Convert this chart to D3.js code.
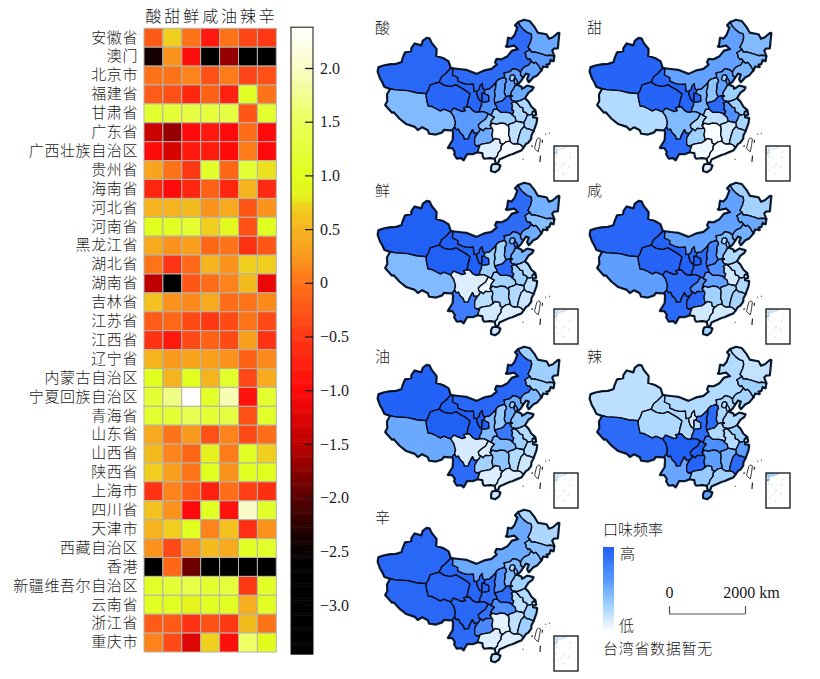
<!DOCTYPE html>
<html><head><meta charset="utf-8">
<script src="https://cdn.jsdelivr.net/npm/d3@7/dist/d3.min.js"></script>
<style>
html,body{margin:0;padding:0;background:#fff;overflow:hidden}
text{font-family:"Liberation Serif","Noto Sans CJK SC",serif;fill:#1a1a1a}
.cjk text,text.cjk{font-weight:300}
</style></head><body><svg id="c" width="820" height="679"></svg>
<script>
const provinces=["安徽省","澳门","北京市","福建省","甘肃省","广东省","广西壮族自治区","贵州省","海南省","河北省","河南省","黑龙江省","湖北省","湖南省","吉林省","江苏省","江西省","辽宁省","内蒙古自治区","宁夏回族自治区","青海省","山东省","山西省","陕西省","上海市","四川省","天津市","西藏自治区","香港","新疆维吾尔自治区","云南省","浙江省","重庆市"];
const tastes=["酸","甜","鲜","咸","油","辣","辛"];
const sour=[-0.2,-2.4,0,-0.2,1.15,-1.4,-1.0,0.35,-0.7,0.5,1.0,0.4,0,-1.5,0.6,-0.2,-0.55,0.5,1.0,1.2,1.15,0.4,0.55,0.7,-0.55,0.6,0.5,0.2,-3.4,1.1,1.05,-0.2,0.1];
const sweet=[0.7,0.2,0,-0.3,1.2,-1.7,-1.3,0,-1.0,0.5,1.05,0.2,-0.55,-3.2,0.2,-0.1,-0.85,0.25,0.5,1.7,1.2,0,0.1,0.3,0.1,0.2,0.7,-0.35,-0.1,1.2,1.05,-0.2,-0.35];
const umami=[0,-0.95,0.1,-0.7,1.3,-1.0,-0.85,-0.5,-0.7,0.55,1.15,0.3,-0.1,-0.25,0.15,-0.35,-0.35,0.35,1.0,2.38,1.45,0.25,-0.1,0,-0.2,-1.0,1.0,0.2,-1.9,1.35,0.85,-0.55,-1.25];
const salty=[-0.85,-3.4,-0.3,-0.15,1.25,-0.85,-0.8,1.1,-0.15,0.2,0.7,-0.1,0.5,-0.05,0.4,-0.5,-0.15,0.3,0.5,1.1,1.2,-0.3,0.8,1.0,-0.75,1.05,0.1,0.55,-3.4,1.15,1.05,-0.3,0.7];
const oily=[0,-1.7,0.05,-0.75,1.3,-1.0,-1.0,-0.1,-0.7,0.4,0.9,0,0.2,0.1,-0.05,-0.35,-0.35,0.2,1.1,1.9,1.3,0.1,0.05,0.2,-0.05,-0.9,0.6,0.4,-3.4,1.25,1.05,-0.5,-0.95];
const spicy=[-0.4,-3.4,-0.4,1.05,-0.25,-0.05,0.05,1.2,0.5,-0.25,-0.3,-0.6,0.7,0.55,0,0,0.3,-0.15,-0.35,-0.9,-0.3,-0.35,1.05,1.05,-0.45,2.0,-0.6,1.05,-3.4,-0.5,0.45,0.55,1.55];
const pungent=[-0.5,-3.4,-0.3,0,1.15,-1.0,-1.0,0.75,-0.65,0.2,1.0,-0.25,0.7,-1.15,0.15,-0.35,-0.55,0.15,0.4,1.15,1.1,-0.05,0.7,1.0,-0.6,1.1,0.2,1.1,-3.4,1.1,1.05,0,0.95];
const tasteValues=[sour,sweet,umami,salty,oily,spicy,pungent];
const colorbarTicks=[2,1.5,1,0.5,0,-0.5,-1,-1.5,-2,-2.5,-3];
const colorbarRange=[-3.456,2.38];
const heatStops=[-3.456,-2.65,-2.4,-2,-1.5,-1,-0.5,0,0.25,0.5,0.72,0.78,1,1.5,2,2.38];
const heatColors=["#000000","#000000","#140000","#5a0000","#be0000","#ff0a0a","#ff3814","#ff7318","#fa9a1c","#f5b41e","#f0d21e","#e6f01e","#e1ff1e","#ebff5a","#fafcc8","#ffffff"];
const blueStops=[-1.5,-1,-0.5,0,0.3,0.6,1,1.3];
const blueColors=["#fbfdff","#dceeff","#bcdfff","#9dcfff","#73b0ff","#5a9aff","#2e6cf8","#2060f5"];
const legendStops=[0,0.3,0.6,1];
const legendColors=["#ffffff","#a5d4ff","#5a9aff","#2060f5"];
// approximate province outlines, [longitude, latitude]
const outlines={
"新疆维吾尔自治区":[[73.5,39.5],[75,40.3],[76.8,41],[78.5,41.4],[80.2,42.2],[80.2,43],[80.5,44.6],[82.5,45.3],[82.3,46],[83,47.2],[85.5,47.1],[85.7,48.3],[86.8,49.1],[87.8,49.1],[88.8,48.1],[90.8,46.9],[91,45.2],[93.5,44.9],[95.4,44.3],[96.4,42.7],[94.8,41.3],[93.8,40.6],[93.2,39.2],[90.5,38.3],[90.2,37],[89.7,36.1],[87,35.9],[84,36],[80.3,35.5],[78.9,35.5],[77,35.6],[76,36.5],[75,37.2],[73.7,38.5]],
"西藏自治区":[[78.9,35.5],[80.3,35.5],[84,36],[87,35.9],[89.7,36.1],[90,35],[90.8,33.3],[92,33.3],[93,33],[94.5,32.5],[95.5,33],[97.5,32.5],[98.5,31.5],[99.1,30],[98.9,29],[98.4,28.3],[97.4,28.2],[96,28.2],[95.5,27.5],[94,26.9],[92.2,26.9],[91.7,27.7],[90,28.2],[89,27.4],[88,28],[85.5,28.3],[83.5,29.2],[81.5,30.4],[81,30.2],[78.7,31.5],[79,32.5],[78.4,34]],
"青海省":[[89.7,36.1],[90.2,37],[90.5,38.3],[93.2,39.2],[95,38.6],[97,38.5],[98.5,39],[100,38.4],[101.5,37.8],[103,37],[102.8,36.2],[102.5,35.4],[102.2,33.9],[101.2,33.6],[101.8,33],[100.8,32.7],[98.3,33.4],[97.5,32.5],[95.5,33],[94.5,32.5],[93,33],[92,33.3],[90.8,33.3],[90,35]],
"甘肃省":[[97.2,42.7],[97.2,41.2],[99,40.7],[99,39.9],[100.8,39.4],[102.3,39.2],[104,39.3],[104.2,38],[104.3,37.5],[105,37.6],[105.2,36.7],[105.5,36],[106,35.4],[106.5,35.4],[106.6,35.8],[106.6,37.1],[107.3,37.1],[108.7,36.5],[108.7,35.2],[107.8,35],[106.5,35],[106.5,34.3],[106,33.5],[105.8,32.7],[104.8,32.6],[103.9,33],[103,33.8],[102.2,33.9],[102.5,35.4],[102.8,36.2],[103,37],[101.5,37.8],[100,38.4],[98.5,39],[97,38.5],[95,38.6],[93.2,39.2],[93.8,40.6],[94.8,41.3],[96.4,42.7]],
"宁夏回族自治区":[[106.8,39.4],[107,38.2],[107.6,37.8],[107.3,37.1],[106.6,37.1],[106.6,35.8],[106.5,35.4],[106,35.4],[105.5,36],[105.2,36.7],[105,37.6],[105.8,38],[106,38.8]],
"内蒙古自治区":[[121.3,53.3],[120,52.7],[120.7,52],[119.2,50.3],[117.8,49.5],[116.7,49.8],[116,48],[115.6,47.9],[116,47.8],[118.5,47.9],[119.8,46.8],[117.5,46.6],[115.7,45.4],[113.6,44.8],[111.9,45],[111.4,44.3],[111.9,43.7],[110,42.7],[107.5,42.4],[105,41.6],[101.8,42.5],[100,42.6],[97.2,42.7],[97.2,41.2],[99,40.7],[99,39.9],[100.8,39.4],[102.3,39.2],[104,39.3],[104.2,38],[104.3,37.5],[105,37.6],[105.8,38],[106,38.8],[106.8,39.4],[107,38.2],[107.6,37.8],[108,38],[108.9,38],[110.5,39],[111.1,39.5],[111.4,39.8],[112,40.2],[113.8,40.5],[114.1,40.9],[114,41.6],[115.3,41.7],[116,41.8],[117,42.4],[118.5,42],[119.3,41.3],[120,42],[121,42.5],[122.3,42.7],[123.5,43.5],[123,44.2],[122.5,44],[122,44.6],[122,45.3],[121.7,45.7],[122.7,46],[123.8,46.3],[123.2,46.9],[124.5,48.1],[125.2,49.1],[125.2,50],[124,50.4],[122.8,51.3],[121.8,52.3]],
"黑龙江省":[[121.3,53.3],[123.6,53.6],[125.6,53],[126.9,51.3],[127.6,49.8],[130.6,48.9],[131,47.7],[132.6,47.8],[134.7,48.4],[135.1,48.4],[133.1,45.1],[131.9,45.3],[131,44.9],[131.2,43.5],[130,43.9],[128.8,44],[127.5,44.6],[126.2,45.1],[125,45.5],[124,45.6],[123.8,46.3],[123.2,46.9],[124.5,48.1],[125.2,49.1],[125.2,50],[124,50.4],[122.8,51.3],[121.8,52.3]],
"吉林省":[[131.2,43.5],[130.6,42.4],[129.8,42.9],[129,42],[128,42],[128.2,41.4],[126.9,41.8],[126,40.9],[125.5,42.1],[124.8,43],[124,42.9],[123.5,43.5],[123,44.2],[122.5,44],[122,44.6],[122,45.3],[121.7,45.7],[122.7,46],[123.8,46.3],[124,45.6],[125,45.5],[126.2,45.1],[127.5,44.6],[128.8,44],[130,43.9]],
"辽宁省":[[126,40.9],[124.4,40],[123,39.7],[121.5,38.8],[121.2,39.5],[122,40.5],[121,40.9],[119.8,40],[119.2,40.6],[119.3,41.3],[120,42],[121,42.5],[122.3,42.7],[123.5,43.5],[124,42.9],[124.8,43],[125.5,42.1]],
"河北省":[[119.8,40],[119,39.3],[117.8,38.6],[117.6,38.5],[117,38.3],[116.5,37.7],[115.7,37],[115.4,36.2],[114.6,36.1],[114,36],[113.7,36.4],[113.5,37.1],[113.8,38.1],[113.9,39],[114.5,39.6],[114.3,40.3],[113.8,40.5],[114.1,40.9],[114,41.6],[115.3,41.7],[116,41.8],[117,42.4],[118.5,42],[119.3,41.3],[119.2,40.6]],
"北京市":[[116,40.9],[116.8,41],[117.4,40.6],[117.2,40],[116.7,39.6],[116,39.6],[115.5,40]],
"天津市":[[117.2,40.2],[117.7,39.8],[118,39.2],[117.6,38.6],[117,38.8],[116.9,39.5]],
"山东省":[[117.6,38.5],[118.9,37.9],[119,37.3],[120,37.6],[120.8,37.9],[122.5,37.3],[122,36.8],[120.7,36.3],[119.4,35.1],[118.5,34.8],[117.2,34.6],[116.3,34.7],[115.5,35],[115.1,35.8],[115.9,36],[115.4,36.2],[115.7,37],[116.5,37.7],[117,38.3]],
"山西省":[[110.4,34.6],[111.5,34.9],[112.8,35.1],[114,36],[113.7,36.4],[113.5,37.1],[113.8,38.1],[113.9,39],[114.5,39.6],[114.3,40.3],[113.8,40.5],[112,40.2],[111.4,39.8],[111.1,39.5],[110.9,38.2],[110.5,37.5],[110.6,36.5],[110.3,35.6]],
"陕西省":[[107.6,37.8],[108,38],[108.9,38],[110.5,39],[111.1,39.5],[110.9,38.2],[110.5,37.5],[110.6,36.5],[110.3,35.6],[110.4,34.6],[110.9,33.9],[111,33.2],[110,33.2],[109.6,32.5],[109.2,31.8],[108.4,32.2],[107.2,32.7],[106,32.8],[105.8,32.7],[106,33.5],[106.5,34.3],[106.5,35],[107.8,35],[108.7,35.2],[108.7,36.5],[107.3,37.1]],
"河南省":[[110.4,34.6],[111.5,34.9],[112.8,35.1],[114,36],[114.6,36.1],[115.4,36.2],[115.9,36],[115.1,35.8],[115.5,35],[116.3,34.7],[115.3,34.3],[115.6,33.8],[115.3,32.9],[115.8,32.5],[115.3,31.5],[114.8,32],[113.8,32.3],[112,32.4],[111,33.2],[110.9,33.9]],
"四川省":[[97.5,32.5],[98.3,33.4],[100.8,32.7],[101.8,33],[101.2,33.6],[102.2,33.9],[103,33.8],[103.9,33],[104.8,32.6],[105.8,32.7],[106,32.8],[107.2,32.7],[108.4,32.2],[107.6,31],[106.7,30.5],[106.2,30.2],[105.5,29.6],[105.7,28.9],[106.8,28.2],[106.2,28.7],[105.5,27.8],[105.3,27.7],[104.4,27.6],[103.9,28.5],[103,27],[102.8,26.3],[101.7,26.2],[101.4,27],[100.5,27.7],[100,28.5],[99.4,28.3],[98.9,29],[99.1,30],[98.5,31.5]],
"重庆市":[[108.4,32.2],[109.2,31.8],[110.1,31.4],[109.2,30.5],[108.8,29.4],[109.3,28.8],[108.5,28.7],[107.5,28.8],[106.8,28.2],[105.7,28.9],[105.5,29.6],[106.2,30.2],[106.7,30.5],[107.6,31]],
"云南省":[[98.9,29],[99.4,28.3],[100,28.5],[100.5,27.7],[101.4,27],[101.7,26.2],[102.8,26.3],[103,27],[103.9,28.5],[104.4,27.6],[105.3,27.7],[104.5,26.5],[104.5,25],[105,24.6],[105.9,24.8],[105.3,23.2],[104,22.7],[102.5,22.7],[101.7,21.2],[101.1,21.7],[100,21.5],[99.3,22.5],[99.5,23],[98.7,24],[97.6,23.9],[98.7,25.8],[98.7,27.5],[98.4,28.3]],
"贵州省":[[105.3,27.7],[105.5,27.8],[106.2,28.7],[106.8,28.2],[107.5,28.8],[108.5,28.7],[109.3,28.8],[109.5,28.3],[109.2,27.2],[109.4,26.3],[109.3,25.8],[108.5,25.3],[107.5,25.2],[106.2,25],[105.9,24.8],[105,24.6],[104.5,25],[104.5,26.5]],
"广西壮族自治区":[[105.9,24.8],[106.2,25],[107.5,25.2],[108.5,25.3],[109.3,25.8],[110,26.3],[111.2,26],[111.3,25.1],[112,24.8],[111.5,24.4],[111.4,23.6],[110.6,22.8],[110.3,22],[109.7,21.5],[108.5,21.7],[107,21.6],[106.7,22],[106.6,22.9],[105.3,23.2]],
"湖南省":[[109.3,28.8],[108.8,29.4],[109.5,30],[110.5,29.7],[111.8,29.9],[113,29.7],[113.9,29],[114,28.3],[113.7,27],[114,25.9],[113.9,25.4],[112.8,25.3],[112,24.8],[111.3,25.1],[111.2,26],[110,26.3],[109.3,25.8],[109.4,26.3],[109.2,27.2],[109.5,28.3]],
"湖北省":[[108.8,29.4],[109.2,30.5],[110.1,31.4],[109.2,31.8],[109.6,32.5],[110,33.2],[111,33.2],[112,32.4],[113.8,32.3],[114.8,32],[115.3,31.5],[116,31],[116.1,30],[115.5,29.7],[114,29.4],[113.9,29],[113,29.7],[111.8,29.9],[110.5,29.7],[109.5,30]],
"安徽省":[[116.3,34.7],[117,34.2],[117.8,33.2],[118.5,33],[118.5,32],[119.1,31.8],[119.6,31.2],[118.9,30.2],[118.2,29.4],[117.2,29.7],[116.1,30],[116,31],[115.3,31.5],[115.8,32.5],[115.3,32.9],[115.6,33.8],[115.3,34.3]],
"江苏省":[[119.4,35.1],[120.3,34.2],[120.9,32.9],[121.9,31.9],[121.1,31.7],[120.9,31.1],[120,31],[119.6,31.2],[119.1,31.8],[118.5,32],[118.5,33],[117.8,33.2],[117,34.2],[116.3,34.7],[117.2,34.6],[118.5,34.8]],
"上海市":[[121.1,31.7],[121.9,31.5],[121.9,30.9],[121,30.8],[120.9,31.1]],
"浙江省":[[120.9,31.1],[121,30.8],[120.9,30.3],[122,30],[121.6,28.9],[120.5,27.2],[120,27.4],[119.5,27.7],[118.8,27.9],[118.2,28.5],[118.2,29.4],[118.9,30.2],[119.6,31.2],[120,31]],
"江西省":[[114,29.4],[115.5,29.7],[116.1,30],[117.2,29.7],[118.2,29.4],[118.2,28.5],[117.2,27.8],[116.5,26.5],[116,25.3],[115.8,24.6],[114.8,24.6],[114.2,25],[113.9,25.4],[114,25.9],[113.7,27],[114,28.3],[113.9,29]],
"福建省":[[118.2,28.5],[118.8,27.9],[119.5,27.7],[120,27.4],[120.5,27.2],[119.7,26.2],[119.5,25.4],[118.6,24.6],[118,24.4],[117.2,23.6],[116.6,24.3],[115.8,24.6],[116,25.3],[116.5,26.5],[117.2,27.8]],
"广东省":[[117.2,23.6],[116.6,23],[115.5,22.7],[114.2,22.3],[113.5,22.2],[112,21.7],[110.8,21.3],[110.4,20.4],[109.9,20.4],[109.7,21.5],[110.3,22],[110.6,22.8],[111.4,23.6],[111.5,24.4],[112,24.8],[112.8,25.3],[113.9,25.4],[114.2,25],[114.8,24.6],[115.8,24.6],[116.6,24.3]],
"海南省":[[108.7,19.3],[109,20],[110,20.1],[110.9,19.7],[110.5,18.8],[109.6,18.2],[108.7,18.5]]
};
const taiwanOutline=[[120.1,23],[121,25],[121.6,25.3],[122,25],[121.5,23.5],[120.9,22],[120.3,22.6]];
const islandMarks=[[[123.5,25.8],[123.7,25.9]],[[124.5,25.9],[124.7,26]],[[116.7,20.7],[116.9,20.8]],[[121.3,21],[120.9,19.5]],[[122.3,24],[122.5,24.7]],[[119.3,23.6],[119.8,23.6]]];
const seaDashes=[[[110,17],[110.5,15.5]],[[109.5,12],[109.8,10.5]],[[110.5,7],[111.5,5.5]],[[114,3.5],[116,4.5]],[[118.5,8],[119.5,10]],[[119.5,14.5],[120,16.5]],[[120,19],[121,20.5]],[[113,8],[113.5,9]],[[115,10],[116,12]],[[112,15],[113,16]]];
const panelOffsets=[[0,0],[212,0],[0,163],[212,163],[0,327],[212,327],[0,490]];
const panelLabelY=[27,27,190,190,356,356,517];

const svg=d3.select("#c");
const rowKeys=d3.range(provinces.length);
const xBand=d3.scaleBand().domain(tastes).range([144,276.3]);
const yBand=d3.scaleBand().domain(provinces).range([28.3,652]);
const heat=d3.scaleLinear().domain(heatStops).range(heatColors).clamp(true);

// heat map
const gh=svg.append("g");
tastes.forEach((t,c)=>{
  gh.selectAll(null).data(rowKeys).join("rect")
    .attr("x",xBand(t)).attr("y",i=>yBand(provinces[i]))
    .attr("width",xBand.bandwidth()).attr("height",yBand.bandwidth())
    .attr("fill",i=>heat(tasteValues[c][i]))
    .attr("stroke","#b4b4aa").attr("stroke-width",1);
});
const axL=svg.append("g").attr("class","cjk").attr("transform","translate(144,0)")
  .call(d3.axisLeft(yBand).tickSize(0).tickPadding(6));
axL.select(".domain").remove();
axL.selectAll("text").style("font-size","15px").attr("letter-spacing","0.6px");
const axT=svg.append("g").attr("class","cjk").attr("transform","translate(0,22)")
  .call(d3.axisTop(xBand).tickSize(0).tickPadding(0));
axT.select(".domain").remove();
axT.selectAll("text").style("font-size","16px");

// colour bar
const barX=[291,313];
const barY=d3.scaleLinear().domain([-3,2]).range([605,68]);
const levels=d3.range(colorbarRange[0],colorbarRange[1],0.02);
svg.append("g").selectAll("rect").data(levels).join("rect")
  .attr("x",barX[0]).attr("width",barX[1]-barX[0])
  .attr("y",v=>barY(v+0.02)).attr("height",v=>barY(v)-barY(v+0.02)+0.5)
  .attr("fill",v=>heat(v));
svg.append("rect").attr("x",barX[0]).attr("y",barY(colorbarRange[1]))
  .attr("width",barX[1]-barX[0]).attr("height",barY(colorbarRange[0])-barY(colorbarRange[1]))
  .attr("fill","none").attr("stroke","#111").attr("stroke-width",1);
const fmt=v=>v===0?"0":(v<0?"\u2212":"")+Math.abs(v).toFixed(1);
const axB=svg.append("g").attr("transform",`translate(${barX[1]},0)`)
  .call(d3.axisRight(barY).tickValues(colorbarTicks).tickFormat(fmt).tickSize(-8).tickPadding(7));
axB.select(".domain").remove();
axB.selectAll("line").attr("stroke","#111").attr("stroke-width",1.2);
axB.selectAll("text").style("font-size","16px").style("font-family","Liberation Serif");

// maps
const features=Object.entries(outlines).map(([name,ring])=>toFeature(name,ring));
function toFeature(name,ring){
  const r=[...ring,ring[0]];
  const f={type:"Feature",properties:{name},geometry:{type:"Polygon",coordinates:[r]}};
  if(d3.geoArea(f)>2*Math.PI) f.geometry.coordinates[0]=r.slice().reverse();
  return f;
}
const fc={type:"FeatureCollection",features};
const projection=d3.geoConicEqualArea().parallels([25,47]).rotate([-105,0]).center([0,35])
  .fitExtent([[378,19],[559,173]],fc);
const path=d3.geoPath(projection);
const insetProj=d3.geoEquirectangular().rotate([-117,0]).center([0,11.5]).scale(78).translate([566,163.5]);
const insetPath=d3.geoPath(insetProj);
const ramp=d3.scaleLinear().domain(blueStops).range(blueColors).clamp(true);
const taiwan=toFeature("台湾",taiwanOutline);

tastes.forEach((t,c)=>{
  const vals=new Map(provinces.map((p,i)=>[p,tasteValues[c][i]]));
  const col=f=>ramp(vals.get(f.properties.name));
  const [dx,dy]=panelOffsets[c];
  const g=svg.append("g").attr("transform",`translate(${dx},${dy})`);
  g.selectAll(".under").data(features).join("path").attr("d",path)
    .attr("fill","#12304f").attr("stroke","#14324f").attr("stroke-width",3).attr("stroke-linejoin","round");
  g.selectAll(".prov").data(features).join("path").attr("d",path)
    .attr("fill",col).attr("stroke","#050a14").attr("stroke-width",1.35).attr("stroke-linejoin","round");
  g.append("path").datum(taiwan).attr("d",path).attr("fill","#fff").attr("stroke","#222").attr("stroke-width",0.9);
  g.selectAll(".isl").data(islandMarks).join("path")
    .attr("d",m=>path({type:"LineString",coordinates:m}))
    .attr("fill","none").attr("stroke","#222").attr("stroke-width",1.2);
  // inset
  const clipId="clip"+c;
  g.append("clipPath").attr("id",clipId).append("rect").attr("x",554).attr("y",146).attr("width",24).attr("height",35);
  const ig=g.append("g").attr("clip-path",`url(#${clipId})`);
  ig.append("rect").attr("x",554).attr("y",146).attr("width",24).attr("height",35).attr("fill","#fff");
  ig.selectAll(".p").data(features).join("path").attr("d",insetPath).attr("fill",col).attr("stroke","#9fb8cc").attr("stroke-width",0.5);
  ig.selectAll(".d").data(seaDashes).join("path")
    .attr("d",m=>insetPath({type:"LineString",coordinates:m}))
    .attr("fill","none").attr("stroke","#cdd8e2").attr("stroke-width",0.9);
  g.append("rect").attr("x",554).attr("y",146).attr("width",24).attr("height",35)
    .attr("fill","none").attr("stroke","#111").attr("stroke-width",1.3);
  svg.append("text").attr("class","cjk").attr("x",panelLabelX(c)).attr("y",panelLabelY[c]+5.5)
    .style("font-size","15px").style("font-weight","300").text(t);
});
function panelLabelX(c){return c%2?587:375;}

// legend
const defs=svg.append("defs");
const lg=defs.append("linearGradient").attr("id","lg").attr("x1",0).attr("x2",0).attr("y1",1).attr("y2",0);
lg.selectAll("stop").data(legendStops).join("stop")
  .attr("offset",d=>d).attr("stop-color",(d,i)=>legendColors[i]);
const leg=svg.append("g").attr("class","cjk");
leg.append("rect").attr("x",603).attr("y",547).attr("width",11).attr("height",85).attr("fill","url(#lg)");
const legendText=[["口味频率",603,535],["高",620,559],["低",619,631],["台湾省数据暂无",603,654]];
leg.selectAll("text").data(legendText).join("text").attr("x",d=>d[1]).attr("y",d=>d[2])
  .style("font-size","15px").attr("letter-spacing",d=>d[0].length>4?"0.7px":"0").text(d=>d[0]);
const km=d3.scaleLinear().domain([0,2000]).range([669,745]);
const sb=svg.append("g").attr("transform","translate(0,614)")
  .call(d3.axisTop(km).tickValues([0,2000]).tickSize(8).tickPadding(8).tickFormat(v=>v===0?"0":"2000 km").tickSizeOuter(0));
sb.select(".domain").attr("stroke","#555").attr("stroke-width",1.2).attr("d",`M${km(0)},0H${km(2000)}`);
sb.selectAll("line").attr("stroke","#555").attr("stroke-width",1.2);
sb.selectAll("text").style("font-size","16px").style("font-family","Liberation Serif").attr("dx",v=>v===0?0:6);
</script></body></html>
